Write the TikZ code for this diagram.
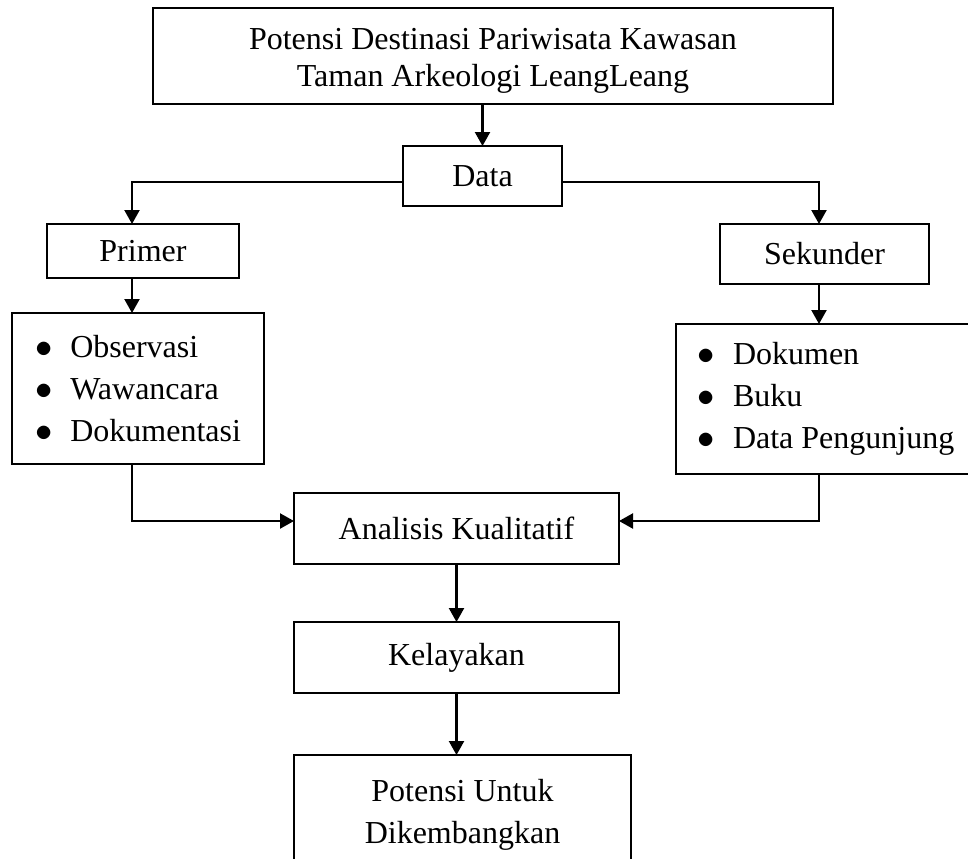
\documentclass[tikz,border=0pt]{standalone}
\usepackage{fontspec}
\setmainfont{Liberation Serif}
\usetikzlibrary{positioning}
\usetikzlibrary{shapes,arrows,arrows.meta,calc}
\newcommand{\titlewidth}{340pt}
\newcommand{\titleheight}{48pt}
\newcommand{\datawidth}{79.5pt}
\newcommand{\dataheight}{30pt}
\newcommand{\primerwidth}{96pt}
\newcommand{\primerheight}{27pt}
\newcommand{\sekunderwidth}{104.5pt}
\newcommand{\sekunderheight}{30pt}
\newcommand{\plistwidth}{126pt}
\newcommand{\slistwidth}{150pt}
\newcommand{\listheight}{75.5pt}
\newcommand{\stepwidth}{162.5pt}
\newcommand{\stepheight}{35.5pt}
\newcommand{\resultwidth}{168.5pt}
\newcommand{\resultheight}{60pt}
\newcommand{\listdot}{$\bullet$\hspace{9pt}}

\begin{document}
\begin{tikzpicture}[x=0.5pt, y=-0.5pt, outer sep=0pt]
\tikzstyle{titlebox}=[
    draw,
    rectangle,
    line width=1.1pt,
    minimum height=\titleheight,
    minimum width=\titlewidth,
    align=center,
    text height=34pt,
    font=\fontsize{16}{18.5}\selectfont,
    anchor=north west]
\tikzstyle{databox}=[
    draw,
    rectangle,
    line width=1.1pt,
    minimum height=\dataheight,
    minimum width=\datawidth,
    font=\fontsize{16}{18.5}\selectfont,
    anchor=north west]
\tikzstyle{primerbox}=[
    draw,
    rectangle,
    line width=1.1pt,
    minimum height=\primerheight,
    minimum width=\primerwidth,
    font=\fontsize{16}{18.5}\selectfont,
    anchor=north west]
\tikzstyle{sekunderbox}=[
    draw,
    rectangle,
    line width=1.1pt,
    minimum height=\sekunderheight,
    minimum width=\sekunderwidth,
    font=\fontsize{16}{18.5}\selectfont,
    anchor=north west]
\tikzstyle{listbox}=[
    draw,
    rectangle,
    line width=1.1pt,
    minimum height=\listheight,
    align=left,
    font=\fontsize{16}{21}\selectfont,
    anchor=north west]
\tikzstyle{stepbox}=[
    draw,
    rectangle,
    line width=1.1pt,
    minimum height=\stepheight,
    minimum width=\stepwidth,
    font=\fontsize{16}{18.5}\selectfont,
    anchor=north west]
\tikzstyle{resultbox}=[
    draw,
    rectangle,
    line width=1.1pt,
    minimum height=\resultheight,
    minimum width=\resultwidth,
    align=center,
    font=\fontsize{16}{21}\selectfont,
    anchor=north west]
\tikzstyle{connector}=[
    draw,
    line width=1.1pt,
    -{Triangle[width=7.5pt,length=7pt]}]
\clip (0,0) rectangle (968,858);

\node[titlebox] (title) at(153,8) {Potensi Destinasi Pariwisata Kawasan\\Taman Arkeologi LeangLeang};
\node[databox] (data) at(403,146) {Data};
\node[primerbox] (primer) at(47,224) {Primer};
\node[sekunderbox] (sekunder) at(720,224) {Sekunder};

\node[listbox, minimum width=\plistwidth] (primerlist) at(12,313) {\listdot Observasi\\\listdot Wawancara\\\listdot Dokumentasi};
\node[listbox, minimum width=\slistwidth, minimum height=75pt] (sekunderlist) at(676,324) {\listdot Dokumen\\\listdot Buku\\\listdot Data Pengunjung};

\node[stepbox] (analisis) at(294,493) {Analisis Kualitatif};
\node[stepbox] (kelayakan) at(294,622) {Kelayakan};
\node[resultbox] (potensi) at(294,755) {Potensi Untuk\\Dikembangkan};

% columns and rows of the elbow lines
\coordinate (lcol) at (132,0);
\coordinate (rcol) at (819,0);
\coordinate (dline) at (0,182);
\coordinate (aline) at (0,521);

\draw[connector] (title.south -| data.north) -- (data.north);
\draw[connector] (data.west |- dline) -| (lcol |- primer.north);
\draw[connector] (data.east |- dline) -| (rcol |- sekunder.north);
\draw[connector] (lcol |- primer.south) -- (lcol |- primerlist.north);
\draw[connector] (rcol |- sekunder.south) -- (rcol |- sekunderlist.north);
\draw[connector] (lcol |- primerlist.south) |- (analisis.west |- aline);
\draw[connector] (rcol |- sekunderlist.south) |- (analisis.east |- aline);
\draw[connector] (analisis.south) -- (kelayakan.north);
\draw[connector] (kelayakan.south) -- (kelayakan.south |- potensi.north);

\end{tikzpicture}
\end{document}
